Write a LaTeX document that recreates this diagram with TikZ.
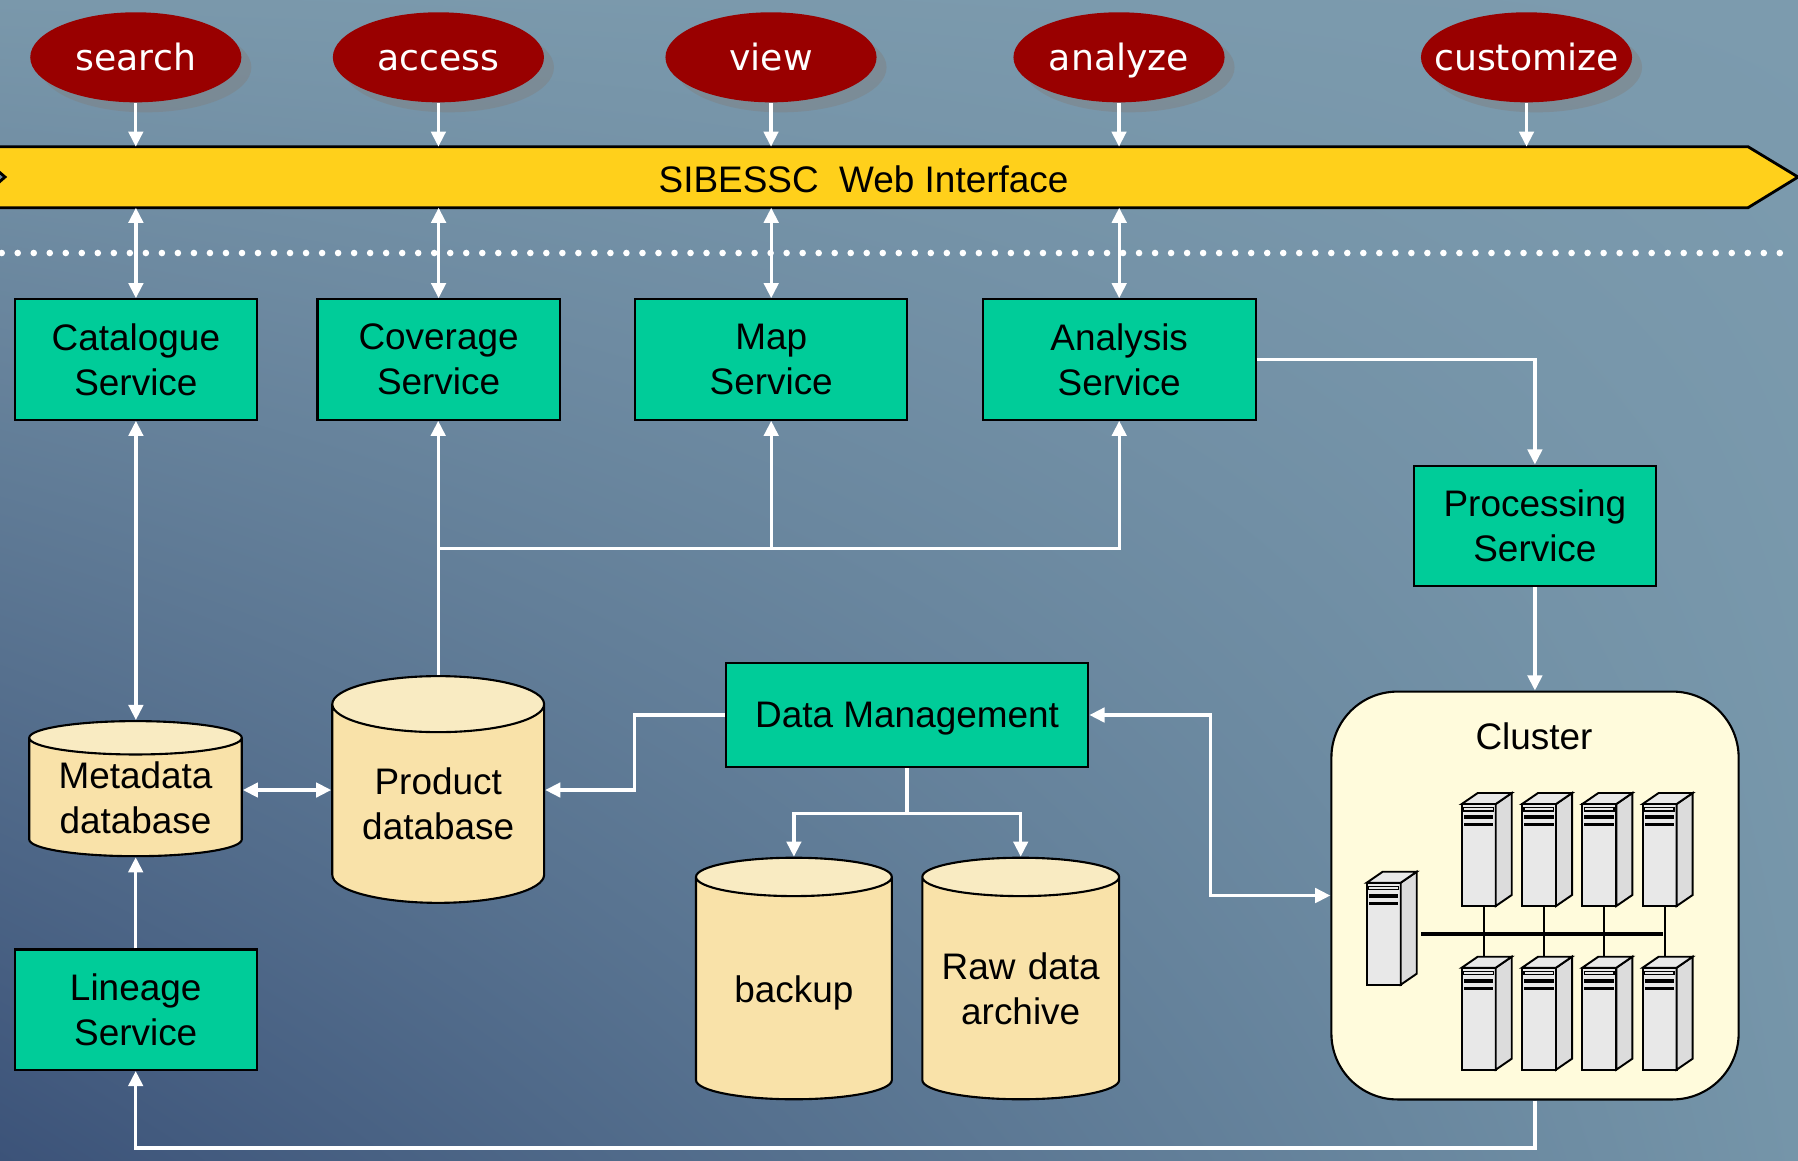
\documentclass[tikz,border=0pt]{standalone}
\usepackage{fontspec}
\setmainfont{Liberation Sans}
\newfontfamily\ovalfont{DejaVu Sans}
\usetikzlibrary{arrows.meta,positioning,shapes.geometric,shadows,shadings}

\definecolor{bgdark}{HTML}{3C5379}
\definecolor{bgtopleft}{HTML}{7A98AB}
\definecolor{bgtopright}{HTML}{7C9BAE}
\definecolor{bgbotright}{HTML}{7595A9}
\definecolor{ovalred}{HTML}{990000}
\definecolor{webyellow}{HTML}{FFD01B}
\definecolor{svcgreen}{HTML}{00CC99}
\definecolor{dbbody}{HTML}{F9E2A9}
\definecolor{dbtop}{HTML}{F9EBC2}
\definecolor{clusterbg}{HTML}{FFFBDC}
\definecolor{srvface}{HTML}{E8E8E8}
\definecolor{srvside}{HTML}{DCDCDC}

\tikzset{
  oval/.style={ellipse, fill=ovalred, text=white, inner sep=0pt,
    minimum width=2.11cm, minimum height=0.9cm,
    text height=0.27cm, text depth=0pt,
    font=\ovalfont\fontsize{10.3}{12}\selectfont,
    drop shadow={shadow xshift=0.1cm, shadow yshift=-0.1cm,
      fill=black!50, opacity=0.45}},
  svc/.style={rectangle, draw=black, line width=0.6pt, fill=svcgreen,
    align=center, minimum height=1.204cm, inner sep=0pt},
  db/.style={cylinder, shape border rotate=90, draw=black, line width=0.6pt,
    cylinder uses custom fill, cylinder body fill=dbbody,
    cylinder end fill=dbtop, align=center, inner sep=0pt,
    minimum width=#1, text width=#1},
  flow/.style={draw=white, line width=0.95pt},
  srv/.style={draw=black, line width=0.55pt},
  % one tower, drawn from the top left corner of its front
  server/.pic={
    \draw[srv, fill=srvface] (0,0) rectangle (34,102);
    \draw[srv, fill=srvside] (34,0) -- (50,-11) -- (50,91) -- (34,102) -- cycle;
    \draw[srv, fill=srvface] (0,0) -- (16,-11) -- (50,-11) -- (34,0) -- cycle;
    \draw[srv, fill=srvface, line width=0.4pt] (2,3.5) rectangle (31.5,7);
    \fill (2,11.3) rectangle (31.5,15);
    \fill (2,19) rectangle (31.5,22.3);
  }
}

\begin{document}
\begin{tikzpicture}[x=0.01cm, y=-0.01cm,
    font=\fontsize{10.5}{12.8}\selectfont,
    >={Triangle[width=4.1pt,length=4.3pt]}]
    \useasboundingbox (0,0) rectangle (1798,1160);
    \shade[lower left=bgdark, upper left=bgtopleft, upper right=bgtopright,
        lower right=bgbotright] (0,0) rectangle (1798,1160);

    % user actions and the web front end
    \foreach \name/\x in {search/135.8, access/438.4, view/771,
        analyze/1119, customize/1526.5}
        \node[oval] (\name) at (\x,57.3) {\makebox[0pt]{\name}};

    \coordinate (bantop) at (0,146.7);
    \coordinate (banbot) at (0,207.7);
    \filldraw[fill=webyellow, draw=black, line width=0.8pt]
        (-30,146.7) -- (1748,146.7) -- (1798,177) -- (1748,207.7)
        -- (-30,207.7) -- (5,177) -- cycle;
    \node (web) at (863.5,179.3) {SIBESSC\ \ Web Interface};

    \draw[white, line width=0.066cm, line cap=round,
        dash pattern=on 0pt off 0.1601cm] (1.7,253) -- (1780,253);

    % services
    \node[svc, minimum width=2.42cm] (cat) at (135.9,359.5) {Catalogue\\Service};
    \node[svc, minimum width=2.42cm] (cov) at (438.6,359.5) {Coverage\\Service};
    \node[svc, minimum width=2.717cm] (map) at (771.2,359.5) {Map\\Service};
    \node[svc, minimum width=2.729cm] (ana) at (1119.2,359.5) {Analysis\\Service};
    \node[svc, minimum width=2.419cm] (proc) at (1534.9,525.8) {Processing\\Service};
    \node[svc, minimum width=2.42cm] (lin) at (135.7,1009.7) {Lineage\\Service};
    \node[svc, minimum width=3.623cm, minimum height=1.043cm, text depth=0pt]
        (dm) at (907.1,715) {Data Management};

    % storage
    \node[db=2.124cm, minimum height=1.35cm, aspect=0.157]
        (meta) at (135.5,797.5) {Metadata\\database};
    \node[db=2.117cm, minimum height=2.266cm, aspect=0.2645]
        (prod) at (438.2,804) {Product\\database};
    \node[db=1.957cm, minimum height=2.414cm, aspect=0.196, text depth=0pt]
        (bak) at (793.9,988.6) {backup};
    \node[db=1.967cm, minimum height=2.414cm, aspect=0.195]
        (raw) at (1020.7,988.6) {Raw data\\archive};

    % compute cluster
    \node[draw=black, line width=0.6pt, fill=clusterbg, rounded corners=0.66cm,
        minimum width=4.07cm, minimum height=4.076cm] (clu) at (1535,895.5) {};
    \node (clu-title) at (1534,736.7) {Cluster};
    \foreach \i in {0,...,3}
        \draw[srv] ({1483.7+60.3*\i},906) -- ({1483.7+60.3*\i},956.7);
    \draw[black, line width=1.1pt] (1421,934) -- (1663.3,934);
    \pic at (1366.7,882.7) {server};
    \foreach \i in {0,...,3} {
        \pic at ({1461.7+60.3*\i},804) {server};
        \pic at ({1461.7+60.3*\i},967.7) {server};
    }

    % data flow
    \foreach \name in {search,access,view,analyze,customize}
        \draw[flow,->] (\name) -- (\name |- bantop);
    \foreach \n in {cat,cov,map,ana}
        \draw[flow,<->] (\n.north |- banbot) -- (\n.north);
    \draw[flow,<->] (cat.south) -- (cat.south |- meta.north);
    \draw[flow,->] (lin.north) -- (lin.north |- meta.south);

    \coordinate (dblink) at (0,790);
    \draw[flow,<->] (meta.east |- dblink) -- (prod.west |- dblink);
    \draw[flow,->] (dm.west) -- ++(-90.6,0) |- (prod.east |- dblink);

    \coordinate (split) at (438.2,548.3);
    \draw[flow,->] (prod.north) -- (prod.north |- cov.south);
    \draw[flow,->] (split) -| (map.south);
    \draw[flow,->] (split) -| (ana.south);

    \draw[flow,->] (ana.east) -| (proc.north);
    \draw[flow,->] (proc.south) -- (proc.south |- clu.north);
    \draw[flow,<->] (dm.east) -- ++(121,0) |- (clu.west);
    \draw[flow,->] (dm.south) -- ++(0,45.2) -| (bak.north);
    \draw[flow,->] (dm.south) -- ++(0,45.2) -| (raw.north);
    \draw[flow,->] (clu.south) -- ++(0,47.6) -| (lin.south);
\end{tikzpicture}
\end{document}
